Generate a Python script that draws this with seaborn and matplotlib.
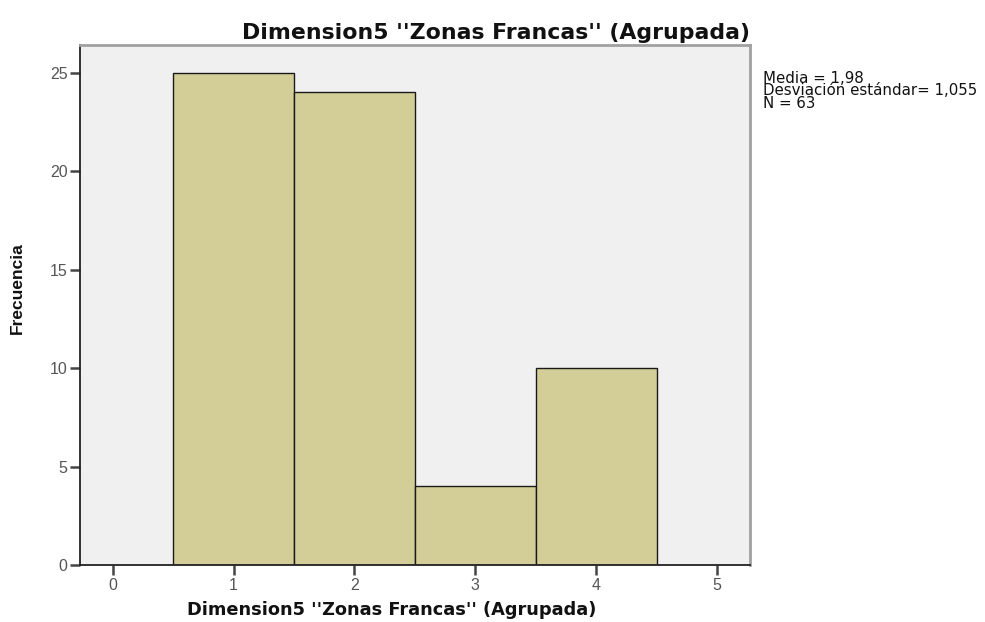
import matplotlib
matplotlib.use("Agg")
import matplotlib.pyplot as plt
from matplotlib import font_manager
import seaborn as sns
import pandas as pd

# Grouped dimension values and their frequencies
categories = [1, 2, 3, 4]
frequencies = [25, 24, 4, 10]
x_ticks = [0, 1, 2, 3, 4, 5]
y_ticks = [0, 5, 10, 15, 20, 25]
stats_text = "Media = 1,98\nDesviación estándar= 1,055\nN = 63"
title = "Dimension5 ''Zonas Francas'' (Agrupada)"

sns.set_style("white")
plt.rcParams['font.family'] = ['Liberation Sans', 'DejaVu Sans']

installed = {f.name for f in font_manager.fontManager.ttflist}
narrow = 'Liberation Sans Narrow' if 'Liberation Sans Narrow' in installed else 'Liberation Sans'

df = pd.DataFrame({'valor': categories, 'frecuencia': frequencies})

fig = plt.figure(figsize=(9.85, 6.22), dpi=100)
ax = fig.add_axes([0.0812, 0.0916, 0.6800, 0.8361])
ax.set_facecolor('#f0f0f0')

sns.histplot(data=df, x='valor', weights='frecuencia', discrete=True,
             color='#d3ce97', edgecolor='#1a1a1a', linewidth=1.0, alpha=1.0, ax=ax)

ax.set_xlim(-0.27, 5.27)
ax.set_ylim(0, 26.4)
ax.set_xticks(x_ticks)
ax.set_yticks(y_ticks)
ax.tick_params(axis='both', bottom=True, left=True, direction='out', length=7, width=1.8,
               colors='#444444', labelsize=11.5, labelcolor='#555555', pad=2)

for side in ['left', 'bottom']:
    ax.spines[side].set_color('#222222')
    ax.spines[side].set_linewidth(1.3)
for side in ['top', 'right']:
    ax.spines[side].set_color('#a0a0a0')
    ax.spines[side].set_linewidth(2.0)

ax.set_xlabel(title, fontsize=12.8, fontweight='bold', family=['DejaVu Sans'], color='#111111')
ax.xaxis.set_label_coords(0.466, -0.070)
ax.set_ylabel('Frecuencia', fontsize=12.5, fontweight='bold', family=[narrow, 'DejaVu Sans'],
              color='#111111')
ax.yaxis.set_label_coords(-0.082, 0.533)
ax.set_title(title, fontsize=15.8, fontweight='bold', family=['DejaVu Sans'],
             loc='right', pad=4, color='#111111')

fig.text(0.775, 0.886, stats_text, fontsize=10.8, va='top', ha='left',
         family=['DejaVu Sans'], linespacing=0.78, color='#111111')

fig.savefig('out.png', dpi=100)
